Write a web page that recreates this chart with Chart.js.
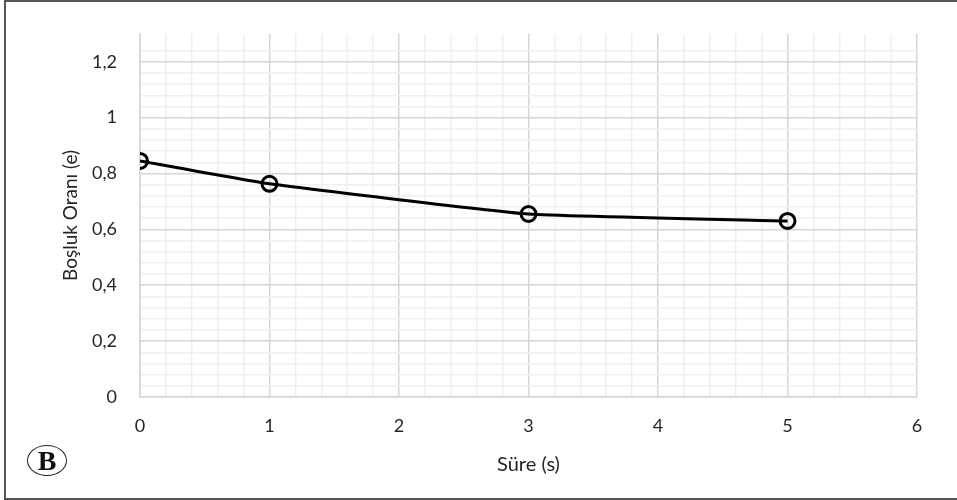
<!DOCTYPE html>
<html lang="tr">
<head>
<meta charset="UTF-8">
<title>Boşluk Oranı - Süre</title>
<script src="https://cdn.jsdelivr.net/npm/chart.js"></script>
<style>
  html, body { margin: 0; padding: 0; background: #fff; }
  #wrap { position: relative; width: 957px; height: 500px; overflow: hidden; }
  #frame {
    position: absolute; left: 4px; top: 0; width: 970px; height: 496px;
    border: 2px solid #555; pointer-events: none;
  }
  #badge {
    position: absolute; left: 27px; top: 445px; width: 38px; height: 29px;
    border: 1.5px solid #222; border-radius: 50%;
    font: bold 28px "Liberation Serif", serif; color: #111;
    text-align: center; line-height: 30px;
  }
</style>
</head>
<body>
<div id="wrap">
  <canvas id="chart" width="957" height="500"></canvas>
  <div id="frame"></div>
  <div id="badge">B</div>
</div>
<script>
// zaman (s) ve boşluk oranı (e)
const sure = [0, 1, 3, 5];
const boslukOrani = [0.845, 0.763, 0.655, 0.63];
const xTickLabels = ['0', '1', '2', '3', '4', '5', '6'];
const yTickLabels = ['0', '0,2', '0,4', '0,6', '0,8', '1', '1,2'];

const near = (v, step) => Math.abs(v / step - Math.round(v / step)) < 1e-6;
const family = 'Lato, "Open Sans", sans-serif';

new Chart(document.getElementById('chart'), {
  type: 'scatter',
  data: {
    datasets: [{
      data: sure.map((x, i) => ({ x: x, y: boslukOrani[i] })),
      showLine: true,
      borderColor: '#000',
      borderWidth: 3,
      tension: 0.12,
      pointRadius: 7.5,
      pointBorderWidth: 3,
      pointBorderColor: '#000',
      pointBackgroundColor: 'rgba(0,0,0,0)'
    }]
  },
  options: {
    responsive: false,
    animation: false,
    layout: { padding: { top: 32, right: 40 } },
    plugins: { legend: { display: false }, tooltip: { enabled: false } },
    scales: {
      x: {
        type: 'linear', min: 0, max: 6,
        afterFit: s => { s.height = 103; },
        border: { color: '#d6d6d6', width: 1.5 },
        grid: {
          drawTicks: false,
          color: c => near(c.tick.value, 1) ? '#d6d6d6' : '#efefef',
          lineWidth: 1.5
        },
        ticks: {
          stepSize: 0.2, autoSkip: false, maxRotation: 0, padding: 18,
          color: '#262626', font: { family: family, size: 18 },
          callback: v => near(v, 1) ? xTickLabels[Math.round(v)] : ''
        },
        title: {
          display: true, text: 'Süre (s)', color: '#262626',
          font: { family: family, size: 20 },
          padding: { top: 0, bottom: 23 }
        }
      },
      y: {
        min: 0, max: 1.3,
        afterFit: s => { s.width = 140; },
        border: { color: '#d6d6d6', width: 1.5 },
        grid: {
          drawTicks: false,
          color: c => near(c.tick.value, 0.2) ? '#d6d6d6' : (near(c.tick.value, 0.04) ? '#efefef' : 'rgba(0,0,0,0)'),
          lineWidth: 1.5
        },
        ticks: {
          stepSize: 0.04, autoSkip: false, padding: 23,
          color: '#262626', font: { family: family, size: 18 },
          callback: v => near(v, 0.2) ? yTickLabels[Math.round(v / 0.2)] : ''
        },
        title: {
          display: true, text: 'Boşluk Oranı (e)', color: '#262626',
          font: { family: family, size: 19 },
          padding: { top: 59, bottom: 0 }
        }
      }
    }
  }
});
</script>
</body>
</html>
